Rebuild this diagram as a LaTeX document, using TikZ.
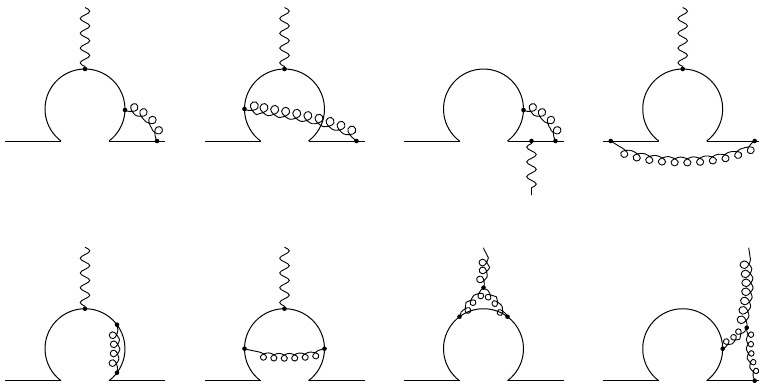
\documentclass[tikz,border=0pt]{standalone}
\usetikzlibrary{decorations}

% wave: one half period per step
\pgfdeclaredecoration{photonwave}{up}{
  \state{up}[switch if less than=.25*\pgfdecorationsegmentlength to final,
             width=.5*\pgfdecorationsegmentlength,next state=down]{
    \pgfpathsine{\pgfpoint{.25*\pgfdecorationsegmentlength}{\pgfdecorationsegmentamplitude}}
    \pgfpathcosine{\pgfpoint{.25*\pgfdecorationsegmentlength}{-\pgfdecorationsegmentamplitude}}
  }
  \state{down}[switch if less than=.25*\pgfdecorationsegmentlength to final,
               width=.5*\pgfdecorationsegmentlength,next state=up]{
    \pgfpathsine{\pgfpoint{.25*\pgfdecorationsegmentlength}{-\pgfdecorationsegmentamplitude}}
    \pgfpathcosine{\pgfpoint{.25*\pgfdecorationsegmentlength}{\pgfdecorationsegmentamplitude}}
  }
  \state{final}{\pgfpathlineto{\pgfpointdecoratedpathlast}}
}

% curl: flat on the path, loop on its left
\pgfdeclaredecoration{gluoncurl}{curl}{
  \state{curl}[switch if less than=\pgfdecorationsegmentlength to final,
               width=\pgfdecorationsegmentlength]{
    \pgfmathsetlengthmacro\curlL{\pgfdecorationsegmentlength}
    \pgfmathsetlengthmacro\curlH{2*\pgfdecorationsegmentamplitude}
    \pgfmathsetlengthmacro\curlR{.1*\curlL+.26*\curlH}
    \pgfmathsetlengthmacro\curlX{.5*\curlL+\curlR}
    \pgfpathcurveto{\pgfpoint{.2*\curlX}{0pt}}
                   {\pgfpoint{\curlX}{.3*\curlH}}
                   {\pgfpoint{\curlX}{.6*\curlH}}
    \pgfpathcurveto{\pgfpoint{\curlX}{.82*\curlH}}
                   {\pgfpoint{.5*\curlL+.55*\curlR}{\curlH}}
                   {\pgfpoint{.5*\curlL}{\curlH}}
    \pgfpathcurveto{\pgfpoint{.5*\curlL-.55*\curlR}{\curlH}}
                   {\pgfpoint{.5*\curlL-\curlR}{.82*\curlH}}
                   {\pgfpoint{.5*\curlL-\curlR}{.6*\curlH}}
    \pgfpathcurveto{\pgfpoint{.5*\curlL-\curlR}{.3*\curlH}}
                   {\pgfpoint{\curlL-.2*\curlX}{0pt}}
                   {\pgfpoint{\curlL}{0pt}}
  }
  \state{final}{\pgfpathlineto{\pgfpointdecoratedpathlast}}
}

\tikzset{
  vtx/.style={circle,fill=black,inner sep=0pt,minimum size=4.6pt},
  fermion/.style={line width=1pt},
  photon/.style={line width=0.9pt,decorate,
    decoration={photonwave,amplitude=4.8pt,segment length=14.75pt,pre length=2.5pt}},
  % {half height of a loop}{distance between loops}
  gluon/.style 2 args={line width=0.9pt,decorate,
    decoration={gluoncurl,amplitude=#1,segment length=#2,
      pre length=2pt,post length=2pt}},
}

\begin{document}
\begin{tikzpicture}[x=1pt,y=-1pt]
  \useasboundingbox (0,0) rectangle (759,384);

  % the same fermion line and loop in all panels
  \foreach \n/\dx/\dy in {a/0/0,b/199.5/0,c/398.5/0,d/597.7/0,
                          e/0/239.7,f/199.5/239.7,g/398.5/239.7,h/597.7/239.7} {
    \begin{scope}[shift={(\dx,\dy)}]
      \coordinate (\n in) at (5,141);
      \coordinate (\n l) at (61,141);
      \coordinate (\n r) at (109,141);
      \coordinate (\n out) at (165,141);
      \draw[fermion] (\n in) -- (\n l);
      \draw[fermion] (\n r) -- (\n out);
      \draw[fermion] (\n l) arc[start angle=126.87,end angle=413.13,radius=40];
    \end{scope}
  }

  % panel a
  \begin{scope}[shift={(0,0)}]
    \node[vtx] (a1) at (85,69) {};
    \node[vtx] (a2) at (125,110) {};
    \node[vtx] (a3) at (157,141) {};
    \coordinate (a0) at (85,7.5);
    \draw[photon] (a1.center) -- (a0);
    \draw[gluon={5.2pt}{10.2pt}] (a2.center) .. controls (145.9,120.5) .. (a3.center);
  \end{scope}

  % panel b
  \begin{scope}[shift={(199.5,0)}]
    \node[vtx] (b1) at (85,69) {};
    \node[vtx] (b2) at (45,109) {};
    \node[vtx] (b3) at (157,141) {};
    \coordinate (b0) at (85,7.5);
    \draw[photon] (b1.center) -- (b0);
    \draw[gluon={5.6pt}{11.2pt}] (b2.center) .. controls (60,118) and (120,118) .. (b3.center);
  \end{scope}

  % panel c
  \begin{scope}[shift={(398.5,0)}]
    \node[vtx] (c1) at (125,110) {};
    \node[vtx] (c2) at (157,141) {};
    \node[vtx] (c3) at (133,141) {};
    \coordinate (c0) at (133,195);
    \draw[photon,decoration={mirror}] (c3.center) -- (c0);
    \draw[gluon={5.2pt}{10.2pt}] (c1.center) .. controls (145.9,120.5) .. (c2.center);
  \end{scope}

  % panel d
  \begin{scope}[shift={(597.7,0)}]
    \node[vtx] (d1) at (85,69) {};
    \node[vtx] (d2) at (13,141) {};
    \node[vtx] (d3) at (157,141) {};
    \coordinate (d0) at (85,7.5);
    \draw[photon] (d1.center) -- (d0);
    \draw[gluon={4.6pt}{12.4pt}] (d3.center) .. controls (125,162) and (45,162) .. (d2.center);
  \end{scope}

  % panel e
  \begin{scope}[shift={(0,239.7)}]
    \node[vtx] (e1) at (85,69) {};
    \node[vtx] (e2) at (117,85) {};
    \node[vtx] (e3) at (117,133) {};
    \coordinate (e0) at (85,7.5);
    \draw[photon] (e1.center) -- (e0);
    \draw[gluon={4.6pt}{9.8pt},decoration={pre length=4pt,post length=4pt}]
      (e3.center) .. controls (120.3,109) .. (e2.center);
  \end{scope}

  % panel f
  \begin{scope}[shift={(199.5,239.7)}]
    \node[vtx] (f1) at (85,69) {};
    \node[vtx] (f2) at (45,109) {};
    \node[vtx] (f3) at (125,109) {};
    \coordinate (f0) at (85,7.5);
    \draw[photon] (f1.center) -- (f0);
    \draw[gluon={4pt}{10.2pt},decoration={pre length=5pt,post length=5pt}]
      (f3.center) .. controls (105,115) and (65,115) .. (f2.center);
  \end{scope}

  % panel g: three gluons meet above the loop
  \begin{scope}[shift={(398.5,239.7)}]
    \node[vtx] (g1) at (61,77) {};
    \node[vtx] (g2) at (109,77) {};
    \node[vtx] (g3) at (85,48) {};
    \coordinate (g0) at (85,8);
    \draw[gluon={4.7pt}{9.6pt}] (g3.center) .. controls (91.7,28) .. (g0);
    \draw[gluon={3.8pt}{10.5pt}] (g3.center) .. controls (69.9,59.9) .. (g1.center);
    \draw[gluon={3.8pt}{10.5pt}] (g2.center) .. controls (100.1,59.9) .. (g3.center);
  \end{scope}

  % panel h
  \begin{scope}[shift={(597.7,239.7)}]
    \node[vtx] (h1) at (125,109) {};
    \node[vtx] (h2) at (149,88) {};
    \node[vtx] (h3) at (157,141) {};
    \coordinate (h0) at (151,8);
    \draw[gluon={5.5pt}{9.6pt}] (h2.center) .. controls (156.7,48) .. (h0);
    \draw[gluon={3.8pt}{8.8pt}] (h1.center) .. controls (139.6,101.5) .. (h2.center);
    \draw[gluon={3.6pt}{9.6pt}] (h2.center) .. controls (148.3,115.2) .. (h3.center);
  \end{scope}
\end{tikzpicture}
\end{document}
